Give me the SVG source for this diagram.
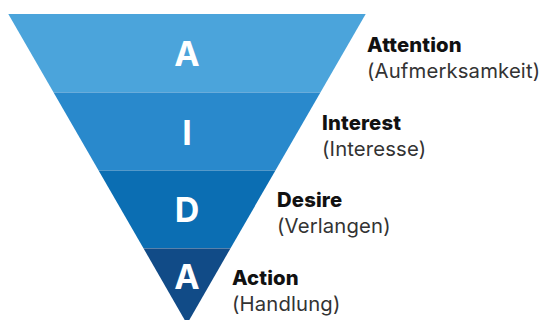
<svg xmlns="http://www.w3.org/2000/svg" width="543" height="320" viewBox="0 0 543 320">
<style>
.big{font-family:Inter,"Liberation Sans",sans-serif;font-weight:700;font-size:34px;fill:#fff;text-anchor:middle}
.t{font-family:Inter,"Liberation Sans",sans-serif;font-weight:800;font-size:20.3px;letter-spacing:0.15px;fill:#111}
.s{font-family:Inter,"Liberation Sans",sans-serif;font-weight:400;font-size:20.3px;letter-spacing:0.15px;fill:#333}
.sep{stroke:#fff;stroke-opacity:0.3;stroke-width:1}
</style>
<g id="band1"><polygon points="8.3,14 365.7,14 320.7,92 53.3,92" fill="#4BA4DB"/><text class="big" x="187" y="66">A</text></g>
<g id="band2"><polygon points="53.3,92 320.7,92 275.7,170 98.3,170" fill="#2989CC"/><text class="big" x="187" y="145">I</text></g>
<g id="band3"><polygon points="98.3,170 275.7,170 230.7,248 143.3,248" fill="#0B6EB3"/><text class="big" x="187" y="222">D</text></g>
<g id="band4"><polygon points="143.3,248 230.7,248 187,324" fill="#114B87"/><text class="big" x="187" y="289">A</text></g>
<g id="connectors">
<line class="sep" x1="53.3" y1="92.5" x2="320.7" y2="92.5"/>
<line class="sep" x1="98.3" y1="170.5" x2="275.7" y2="170.5"/>
<line class="sep" x1="143.3" y1="248.5" x2="230.7" y2="248.5"/>
</g>
<g id="label1"><text class="t" x="367" y="52">Attention</text><text class="s" x="367" y="78">(Aufmerksamkeit)</text></g>
<g id="label2"><text class="t" x="322" y="130">Interest</text><text class="s" x="322" y="156">(Interesse)</text></g>
<g id="label3"><text class="t" x="277" y="207">Desire</text><text class="s" x="277" y="233">(Verlangen)</text></g>
<g id="label4"><text class="t" x="232" y="285">Action</text><text class="s" x="232" y="311">(Handlung)</text></g>
</svg>
